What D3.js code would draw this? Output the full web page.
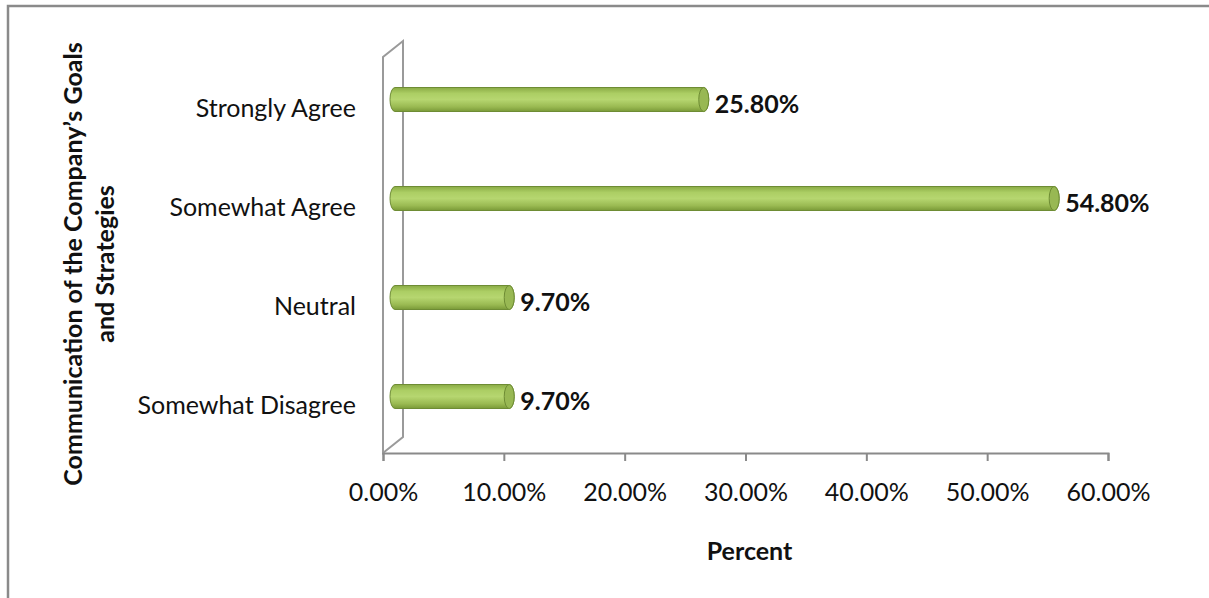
<!DOCTYPE html>
<html>
<head>
<meta charset="utf-8">
<script src="https://cdn.jsdelivr.net/npm/d3@7"></script>
<style>
  body { margin: 0; background: #fff; }
  text { font-family: Lato, "Open Sans", sans-serif; fill: #111; }
</style>
</head>
<body>
<div id="chart"></div>
<script>
const categories = ["Strongly Agree", "Somewhat Agree", "Neutral", "Somewhat Disagree"];
const values = [25.8, 54.8, 9.7, 9.7];
const xTicks = [0, 10, 20, 30, 40, 50, 60];
const yTitle = ["Communication of the Company\u2019s Goals", "and Strategies"];
const xTitle = "Percent";

function drawBarChart() {
    const W = 1209, H = 598;
    const depth = { x: 20, y: 16 }; // 3d wall shift

    const svg = d3.select("#chart")
        .append("svg")
        .attr("width", W)
        .attr("height", H);

    // outer frame (right and bottom fall off the picture)
    svg.append("path")
        .attr("d", "M8," + H + " L8,6 L" + W + ",6")
        .attr("fill", "none")
        .attr("stroke", "#8a8a8a")
        .attr("stroke-width", 2.5);

    const x = d3.scaleLinear().domain([0, 60]).range([383, 1108]);
    const y = d3.scaleBand().domain(categories).range([57, 453]);

    const defs = svg.append("defs");
    const grad = defs.append("linearGradient")
        .attr("id", "cyl")
        .attr("x1", 0).attr("y1", 0).attr("x2", 0).attr("y2", 1);
    grad.append("stop").attr("offset", "0%").attr("stop-color", "#8aab45");
    grad.append("stop").attr("offset", "25%").attr("stop-color", "#acce64");
    grad.append("stop").attr("offset", "50%").attr("stop-color", "#b6d670");
    grad.append("stop").attr("offset", "80%").attr("stop-color", "#9aba52");
    grad.append("stop").attr("offset", "100%").attr("stop-color", "#7a9a38");

    // back wall
    const x0 = x(0), yTop = y.range()[0], yBot = y.range()[1];
    svg.append("path")
        .attr("d", "M" + x0 + "," + yBot + " L" + x0 + "," + yTop +
            " L" + (x0 + depth.x) + "," + (yTop - depth.y) +
            " L" + (x0 + depth.x) + "," + (yBot - depth.y) + " Z")
        .attr("fill", "none")
        .attr("stroke", "#9a9a9a")
        .attr("stroke-width", 2);

    // x axis
    const xAxis = svg.append("g")
        .attr("transform", "translate(0," + yBot + ")")
        .call(d3.axisBottom(x).tickValues(xTicks).tickSize(8).tickPadding(22)
            .tickFormat(d => d.toFixed(2) + "%"));
    xAxis.select(".domain").attr("stroke", "#8a8a8a").attr("stroke-width", 2);
    xAxis.selectAll(".tick line").attr("stroke", "#8a8a8a").attr("stroke-width", 2);
    xAxis.selectAll(".tick text")
        .attr("font-family", "Lato, sans-serif")
        .attr("font-size", 25)
        .attr("fill", "#222");

    // category labels
    svg.selectAll(".cat")
        .data(categories)
        .enter().append("text")
        .attr("class", "cat")
        .attr("x", 356)
        .attr("y", d => y(d) + y.bandwidth() / 2 + 2)
        .attr("dy", "0.35em")
        .attr("text-anchor", "end")
        .attr("font-size", 25)
        .attr("fill", "#222")
        .text(d => d);

    // cylinder bars
    const shift = 9, lift = 7, bh = 24, rx = 5;
    const bars = svg.selectAll(".bar")
        .data(values)
        .enter().append("g")
        .attr("class", "bar");

    bars.append("path")
        .attr("d", (d, i) => {
            const cy = y(categories[i]) + y.bandwidth() / 2 - lift;
            const a = x(0) + shift + 3, b = x(d) + shift;
            return "M" + a + "," + (cy - bh / 2) + " L" + b + "," + (cy - bh / 2) +
                " A" + rx + "," + (bh / 2) + " 0 0 1 " + b + "," + (cy + bh / 2) +
                " L" + a + "," + (cy + bh / 2) +
                " A" + rx + "," + (bh / 2) + " 0 0 1 " + a + "," + (cy - bh / 2) + " Z";
        })
        .attr("fill", "url(#cyl)")
        .attr("stroke", "#6e8c34")
        .attr("stroke-width", 1);

    bars.append("ellipse")
        .attr("cx", d => x(d) + shift)
        .attr("cy", (d, i) => y(categories[i]) + y.bandwidth() / 2 - lift)
        .attr("rx", rx)
        .attr("ry", bh / 2)
        .attr("fill", "#98b853")
        .attr("stroke", "#6e8c34")
        .attr("stroke-width", 1);

    // value labels
    svg.selectAll(".val")
        .data(values)
        .enter().append("text")
        .attr("class", "val")
        .attr("x", d => x(d) + shift + rx + 6)
        .attr("y", (d, i) => y(categories[i]) + y.bandwidth() / 2 - 2)
        .attr("dy", "0.35em")
        .attr("font-size", 25)
        .attr("font-weight", "bold")
        .text(d => d.toFixed(2) + "%");

    // x title
    svg.append("text")
        .attr("x", (x(0) + x(60)) / 2 + 4)
        .attr("y", 551)
        .attr("dy", "0.35em")
        .attr("text-anchor", "middle")
        .attr("font-size", 25)
        .attr("font-weight", "bold")
        .text(xTitle);

    // y title, two lines
    const yt = svg.append("text")
        .attr("transform", "translate(82,264) rotate(-90)")
        .attr("text-anchor", "middle")
        .attr("font-size", 25)
        .attr("font-weight", "bold");
    yt.selectAll("tspan")
        .data(yTitle)
        .enter().append("tspan")
        .attr("x", 0)
        .attr("y", (d, i) => i * 32)
        .text(d => d);
}

drawBarChart();
</script>
</body>
</html>
